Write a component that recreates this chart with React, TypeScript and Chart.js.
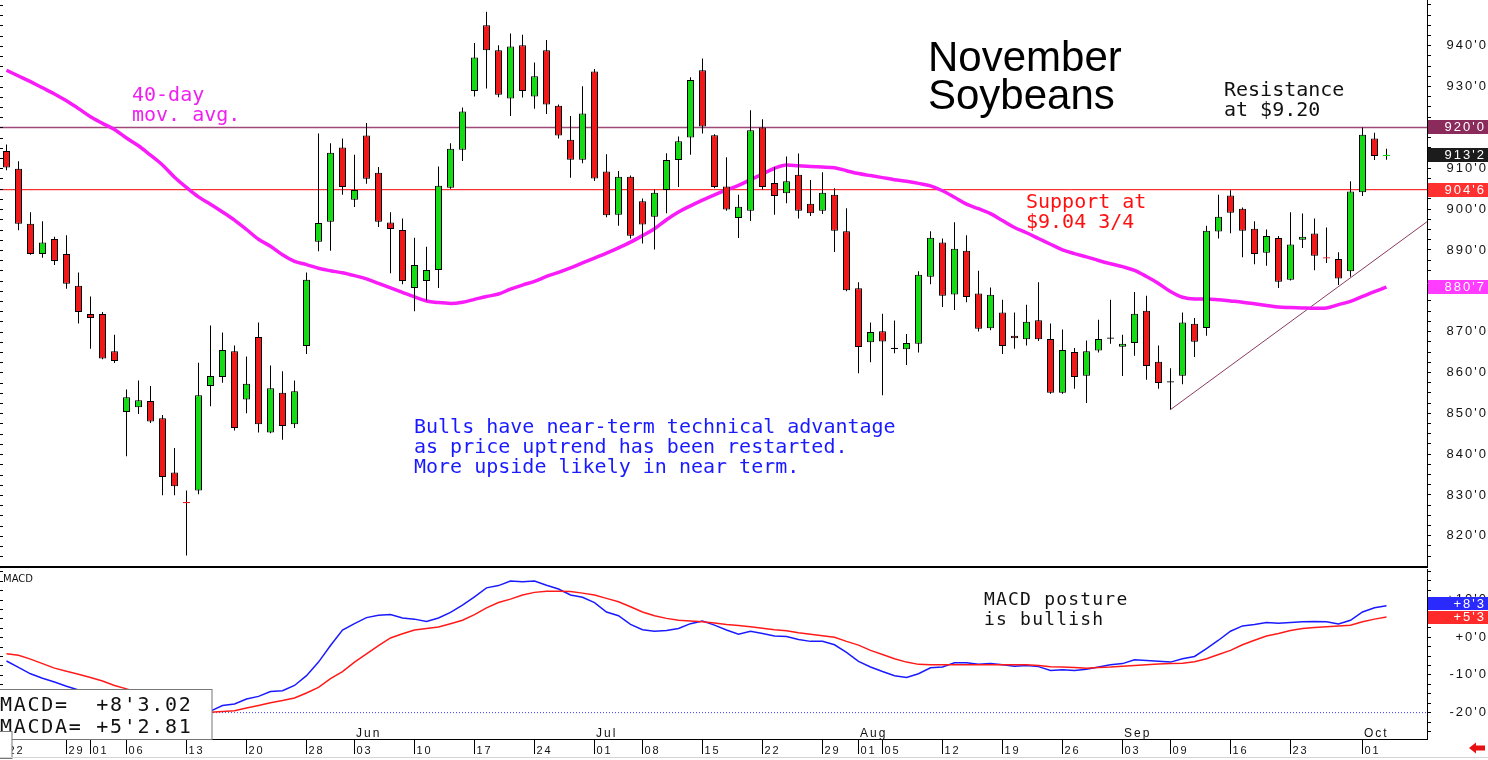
import React, { useEffect, useRef } from "react";
import { Chart, registerables } from "chart.js";

Chart.register(...registerables);

// ---------------- data ----------------
// trading-day index 0 = Apr 22 ... 115 = Oct 3
const tickIdx = [0, 5, 7, 10, 15, 20, 25, 29, 34, 39, 44, 49, 53, 58, 63, 68, 71, 73, 78, 83, 88, 93, 97, 102, 107, 113];
const tickLbl = ["22", "29", "01", "06", "13", "20", "28", "03", "10", "17", "24", "01", "08", "15", "22", "29", "01", "05", "12", "19", "26", "03", "09", "16", "23", "01"];
const monthIdx = [7, 29, 49, 71, 93, 113];
const monthLbl = ["May", "Jun", "Jul", "Aug", "Sep", "Oct"];
const priceLabels = [820, 830, 840, 850, 860, 870, 880, 890, 900, 910, 920, 930, 940];
const macdLabels = [-20, -10, 0, 10];

const open = [
  914.2, 909.9, 896.4, 889.0, 892.7, 889.0, 881.2, 874.3, 874.3, 865.2,
  850.3, 851.5, 853.0, 848.8, 835.5, 828.2, 831.1, 856.7, 858.9, 865.2,
  853.4, 868.7, 845.3, 855.0, 847.3, 866.5, 892.0, 896.9, 915.1, 902.3,
  918.0, 908.9, 896.7, 894.9, 880.7, 882.4, 885.1, 905.2, 914.5, 928.9,
  945.0, 938.9, 927.1, 940.1, 927.6, 938.9, 925.3, 917.0, 912.1, 933.7,
  909.2, 898.6, 907.9, 901.9, 898.1, 904.7, 912.0, 917.5, 934.0, 918.1,
  905.5, 897.8, 899.6, 920.0, 906.4, 903.9, 908.4, 901.3, 899.6, 903.5,
  894.6, 880.6, 867.4, 870.1, 865.9, 865.7, 867.0, 883.4, 891.8, 879.1,
  889.8, 879.3, 870.8, 874.7, 869.0, 868.1, 872.8, 868.2, 855.0, 865.0,
  859.2, 865.4, 868.4, 866.3, 867.2, 875.1, 862.6, 857.7, 859.2, 871.9,
  870.9, 894.5, 903.3, 900.1, 895.2, 889.3, 892.9, 882.7, 892.5, 894.0,
  888.1, 887.8, 884.8, 904.1, 917.3, 913.0,
];
const high = [
  915.8, 911.7, 899.2, 897.0, 893.2, 893.6, 884.5, 878.6, 874.8, 869.2,
  855.8, 858.0, 856.7, 849.6, 841.5, 831.1, 862.4, 871.5, 869.8, 866.6,
  863.9, 872.2, 861.7, 860.3, 858.0, 884.5, 918.5, 916.1, 917.3, 913.3,
  921.1, 910.3, 899.2, 897.7, 893.0, 890.8, 910.4, 916.1, 924.9, 940.7,
  948.3, 940.1, 943.0, 942.7, 935.9, 941.4, 925.6, 922.8, 930.1, 934.3,
  913.4, 909.3, 908.2, 902.6, 904.8, 913.7, 917.8, 932.3, 936.9, 918.3,
  912.7, 903.5, 924.2, 922.0, 910.3, 912.9, 913.6, 907.1, 909.0, 905.1,
  900.2, 882.1, 872.2, 874.4, 872.7, 869.4, 884.8, 894.6, 892.8, 896.8,
  893.6, 884.9, 880.8, 877.8, 874.7, 876.6, 882.1, 872.0, 870.5, 866.0,
  867.8, 872.9, 877.8, 869.2, 879.7, 878.8, 866.6, 861.0, 874.7, 873.3,
  895.9, 903.5, 904.6, 900.4, 897.0, 895.0, 893.4, 899.2, 898.9, 897.7,
  895.5, 889.4, 906.8, 920.0, 918.7, 914.8,
];
const low = [
  909.5, 894.8, 888.8, 888.1, 886.3, 880.5, 872.0, 865.8, 863.2, 862.3,
  839.5, 849.8, 847.6, 829.9, 829.9, 815.2, 830.2, 851.7, 857.5, 845.8,
  850.0, 845.3, 845.1, 843.5, 846.4, 864.5, 889.7, 889.8, 903.5, 900.5,
  906.2, 895.6, 884.3, 881.6, 875.0, 877.6, 880.7, 905.0, 911.8, 927.6,
  929.5, 927.4, 922.8, 927.3, 924.6, 923.3, 917.3, 907.7, 911.2, 906.9,
  898.0, 895.9, 892.8, 891.6, 890.1, 899.0, 905.4, 913.3, 918.5, 905.1,
  899.6, 892.9, 897.1, 904.8, 898.6, 901.4, 897.7, 898.3, 898.8, 889.5,
  879.9, 859.8, 862.5, 854.4, 864.7, 861.8, 864.9, 881.6, 876.0, 875.3,
  877.2, 870.0, 870.3, 864.5, 865.8, 866.6, 867.7, 854.8, 854.8, 856.0,
  852.5, 864.9, 867.0, 859.1, 864.1, 858.2, 856.0, 850.9, 857.1, 863.8,
  869.0, 892.8, 894.1, 888.2, 886.5, 886.1, 880.7, 882.5, 890.5, 885.0,
  886.8, 881.4, 883.4, 903.2, 912.0, 912.1,
];
const close = [
  910.2, 896.4, 889.0, 891.8, 887.3, 881.7, 874.8, 873.3, 863.4, 862.8,
  853.9, 853.2, 848.0, 834.4, 832.1, 828.0, 854.4, 859.1, 865.5, 846.4,
  857.2, 847.3, 856.1, 846.9, 855.4, 882.7, 896.6, 913.8, 905.4, 904.7,
  907.4, 896.9, 895.1, 882.4, 886.3, 885.1, 905.7, 914.8, 923.9, 937.1,
  938.9, 928.0, 939.8, 928.9, 932.5, 925.6, 918.0, 912.1, 923.4, 907.5,
  898.5, 907.9, 893.5, 896.2, 904.0, 912.0, 916.6, 931.6, 920.2, 905.4,
  899.9, 900.6, 919.3, 905.4, 903.2, 906.8, 899.6, 899.0, 904.0, 894.7,
  880.1, 866.2, 869.9, 867.6, 865.9, 867.2, 883.9, 893.0, 878.8, 890.3,
  878.5, 870.7, 879.0, 866.5, 868.4, 872.4, 868.1, 855.0, 865.5, 858.9,
  865.2, 868.2, 868.4, 867.0, 874.4, 861.6, 857.4, 857.7, 872.2, 867.5,
  894.7, 898.1, 899.1, 894.7, 889.0, 893.4, 882.2, 891.3, 893.2, 888.6,
  888.0, 883.0, 904.3, 918.2, 913.0, 913.25,
];
const ma40 = [
  934.0, 932.6, 931.2, 929.7, 928.2, 926.5, 924.6, 922.6, 921.0, 919.5,
  917.4, 915.5, 913.2, 910.8, 907.8, 905.3, 903.0, 901.2, 899.3, 897.3,
  895.0, 892.6, 890.9, 888.8, 887.2, 886.4, 885.5, 884.9, 884.4, 883.7,
  882.9, 881.8, 880.7, 879.6, 878.5, 877.5, 877.1, 876.9, 877.2, 877.9,
  878.6, 879.2, 880.4, 881.4, 882.3, 883.5, 884.5, 885.6, 886.8, 888.0,
  889.2, 890.5, 891.9, 893.5, 895.2, 897.4, 899.3, 900.8, 902.2, 903.5,
  904.7, 905.8, 907.2, 908.6, 910.0, 910.8, 910.6, 910.4, 910.3, 910.1,
  909.4, 908.7, 908.2, 907.7, 907.2, 906.8, 906.3, 905.7, 904.5, 902.9,
  901.2, 900.1, 898.9, 897.2, 895.5, 894.2, 892.8, 891.4, 890.0, 889.1,
  888.3, 887.4, 886.6, 885.9, 885.0, 883.5, 881.8, 879.8, 878.4, 878.0,
  878.0, 877.8, 877.5, 877.2, 876.8, 876.4, 876.0, 875.9, 875.8, 875.7,
  875.8, 876.6, 877.4, 878.6, 879.8, 880.875,
];
const macd = [
  -6.3, -8.0, -9.7, -10.9, -11.9, -13.0, -14.0, -15.0, -16.0, -17.0,
  -18.0, -18.9, -19.7, -20.3, -20.8, -21.0, -20.6, -19.6, -18.1, -17.7,
  -16.4, -15.7, -14.4, -14.2, -12.8, -10.2, -6.6, -2.2, 1.9, 3.6,
  5.2, 5.8, 6.0, 5.1, 4.8, 4.2, 5.1, 6.6, 8.5, 10.7,
  13.1, 13.7, 14.9, 14.7, 14.9, 13.8, 12.8, 11.2, 10.6, 9.2,
  6.7, 5.7, 3.4, 2.0, 1.6, 1.8, 2.3, 3.6, 4.3, 3.2,
  1.9, 0.8, 1.6, 1.0, 0.3, 0.2, -0.6, -1.1, -1.1, -2.0,
  -4.0, -6.4, -7.9, -9.1, -10.2, -10.7, -9.7, -8.1, -7.9, -6.8,
  -6.8, -7.2, -7.0, -7.3, -7.7, -7.5, -7.8, -8.8, -8.6, -8.8,
  -8.5, -7.9, -7.3, -7.0, -6.0, -6.2, -6.4, -6.6, -5.7, -5.1,
  -3.0, -0.8, 1.6, 3.0, 3.4, 3.9, 3.7, 3.9, 4.1, 4.2,
  4.1, 3.5, 4.5, 6.7, 7.8, 8.3775,
];
const macdAvg = [
  -4.4, -4.8, -5.8, -7.0, -8.2, -9.0, -9.8, -10.7, -11.6, -12.8,
  -13.7, -14.6, -15.5, -16.4, -17.3, -18.2, -19.0, -19.9, -19.7, -19.5,
  -18.8, -18.1, -17.4, -16.8, -16.1, -14.8, -13.3, -11.0, -9.1, -6.6,
  -4.4, -2.2, -0.2, 0.9, 1.9, 2.3, 2.7, 3.6, 4.5, 6.0,
  7.8, 9.2, 10.1, 11.2, 11.9, 12.2, 12.2, 12.1, 11.7, 11.2,
  10.3, 9.4, 8.1, 6.7, 5.7, 5.0, 4.5, 4.3, 4.1, 3.8,
  3.4, 3.1, 2.8, 2.4, 2.0, 1.7, 1.2, 0.8, 0.4, 0.0,
  -1.1, -2.1, -3.5, -4.6, -5.7, -6.6, -7.2, -7.3, -7.3, -7.3,
  -7.3, -7.3, -7.3, -7.3, -7.3, -7.3, -7.5, -7.8, -7.9, -8.0,
  -8.2, -8.0, -7.9, -7.7, -7.5, -7.3, -7.1, -7.0, -6.9, -6.5,
  -5.7, -4.6, -3.5, -2.0, -0.8, 0.3, 1.0, 1.8, 2.3, 2.6,
  2.8, 3.0, 3.2, 4.1, 4.8, 5.35125,
];

const RESISTANCE = 920;
const SUPPORT = 904.75;
const trendX = [97, 118.375];
const trendY = [850.9, 896.9];
const MACD_REF = -20;

const titleLines = ["November", "Soybeans"];
const maNote = ["40-day", "mov. avg."];
const resNote = ["Resistance", "at $9.20"];
const supNote = ["Support at", "$9.04 3/4"];
const bullNote = [
  "Bulls have near-term technical advantage",
  "as price uptrend has been restarted.",
  "More upside likely in near term.",
];
const macdNote = ["MACD posture", "is bullish"];
const readoutNames = ["MACD=", "MACDA="];

// ---------------- axes / style ----------------
const X_MIN = -0.5417;
const X_MAX = 118.375;
const P_MIN = 812.6;
const P_MAX = 951.2;
const M_MIN = -27.0;
const M_MAX = 18.1;
const AXIS_W = 61;

const GREEN = "#14DC14";
const RED = "#F01818";
const SANS = '"Liberation Sans", Arial, sans-serif';
const AXIS_FONT = "13px " + SANS;
const MONO = '20px "DejaVu Sans Mono", monospace';

function fmt8(v: number) {
  const a = Math.abs(v);
  let w = Math.floor(a + 1e-9);
  let e = Math.round((a - w) * 8);
  if (e === 8) { w += 1; e = 0; }
  return (v < 0 ? "-" : "") + w + "'" + e;
}
function signed8(v: number) {
  return (v >= 0 ? "+" : "-") + fmt8(Math.abs(v));
}
function readout(v: number) {
  const a = Math.abs(v);
  const w = Math.floor(a + 1e-9);
  return (v >= 0 ? "+" : "-") + w + "'" + ((a - w) * 8).toFixed(2);
}
function inList(v: number, list: number[]) {
  return list.some((l) => Math.abs(l - v) < 1e-6);
}
function drawLines(ctx: any, lines: string[], x: number, y0: number, lh: number, font: string, color: string, ls = 0) {
  ctx.font = font;
  ctx.fillStyle = color;
  ctx.textAlign = "left";
  ctx.textBaseline = "alphabetic";
  ctx.letterSpacing = ls + "px";
  lines.forEach((t, k) => ctx.fillText(t, x, y0 + k * lh));
  ctx.letterSpacing = "0px";
}

// wide letter spacing for the axis labels only
const axisSpacing = {
  id: "axisSpacing",
  beforeDraw(chart: any) {
    chart.ctx.letterSpacing = "2px";
  },
  beforeDatasetsDraw(chart: any) {
    chart.ctx.letterSpacing = "0px";
  },
};

const drawValueBox = (ctx: any, chart: any, c: number, h: number, col: string, text: string) => {
  const ca = chart.chartArea;
  ctx.fillStyle = col;
  ctx.fillRect(ca.right + 1, Math.round(c - h / 2), chart.width - ca.right - 1, h);
  ctx.fillStyle = "#fff";
  ctx.font = AXIS_FONT;
  ctx.textAlign = "right";
  ctx.textBaseline = "middle";
  ctx.letterSpacing = "2px";
  ctx.fillText(text, chart.width - 2, c + 0.5);
  ctx.letterSpacing = "0px";
};

const priceDecor = {
  id: "priceDecor",
  afterDraw(chart: any) {
    const { ctx } = chart;
    const y = chart.scales.y;
    ctx.save();
    ctx.fillStyle = "#000";
    for (const t of y.ticks) {
      const py = Math.round(y.getPixelForValue(t.value));
      ctx.fillRect(0, py, 3, 1);
    }
    drawLines(ctx, titleLines, 928, 71, 38, "42px " + SANS, "#000", 0);
    drawLines(ctx, maNote, 132, 101, 20, MONO, "#F01EF0");
    drawLines(ctx, resNote, 1224, 96, 20, MONO, "#111");
    drawLines(ctx, supNote, 1026, 208, 20, MONO, "#FF1010");
    drawLines(ctx, bullNote, 414, 433, 20, MONO, "#1A1AFF");

    const n = close.length;
    const boxes: [number, string][] = [
      [RESISTANCE, "#8A2B5C"],
      [close[n - 1], "#1C1C1C"],
      [SUPPORT, "#FF3030"],
      [ma40[n - 1], "#FF3CFF"],
    ];
    for (const [v, c] of boxes) drawValueBox(ctx, chart, y.getPixelForValue(v), 14, c, fmt8(v));
    ctx.restore();
  },
};

const macdDecor = {
  id: "macdDecor",
  afterDraw(chart: any) {
    const { ctx, chartArea: ca } = chart;
    const y = chart.scales.y;
    const x = chart.scales.x;
    ctx.save();
    // panel separator
    ctx.fillStyle = "#000";
    ctx.fillRect(0, 0, ca.right + 1, 2);
    for (const t of y.ticks) {
      const py = Math.round(y.getPixelForValue(t.value));
      ctx.fillRect(0, py, 3, 1);
    }
    // months
    ctx.fillStyle = "#111";
    ctx.font = "12px " + SANS;
    ctx.textAlign = "left";
    ctx.textBaseline = "alphabetic";
    ctx.letterSpacing = "2px";
    monthIdx.forEach((m, k) => ctx.fillText(monthLbl[k], x.getPixelForValue(m) + 1.5, ca.bottom - 2));
    ctx.letterSpacing = "0px";
    // labels
    drawLines(ctx, ["MACD"], 3, 15.5, 10, '10px "DejaVu Sans", sans-serif', "#111");
    drawLines(ctx, macdNote, 984, 39, 20, '18px "DejaVu Sans Mono", monospace', "#111", 1.2);
    // readout box
    ctx.fillStyle = "#fff";
    ctx.fillRect(0, ca.bottom - 49, 212, 49);
    ctx.strokeStyle = "#777";
    ctx.lineWidth = 1;
    ctx.strokeRect(-0.5, ca.bottom - 49.5, 212.5, 50);
    const n = macd.length;
    const vals = [readout(macd[n - 1]), readout(macdAvg[n - 1])];
    drawLines(
      ctx,
      readoutNames.map((nm, k) => nm.padEnd(7, " ") + vals[k]),
      0,
      ca.bottom - 28.5,
      22,
      '20px "DejaVu Sans Mono", monospace',
      "#111",
      1.7
    );
    // small corner box
    ctx.fillStyle = "#fff";
    ctx.fillRect(0, ca.bottom - 8, 12, 28);
    ctx.strokeRect(-0.5, ca.bottom - 7.5, 12.5, 27);
    // right value boxes
    const redC = y.getPixelForValue(macdAvg[n - 1]);
    let blueC = y.getPixelForValue(macd[n - 1]);
    if (redC - blueC < 13.5) blueC = redC - 13.5;
    drawValueBox(ctx, chart, redC, 13, "#FF2A2A", signed8(macdAvg[n - 1]));
    drawValueBox(ctx, chart, blueC, 13, "#2A2AFF", signed8(macd[n - 1]));
    // bottom strip
    ctx.fillStyle = "#d4d4d4";
    ctx.fillRect(0, chart.height - 3, chart.width, 1);
    ctx.fillStyle = "#E81010";
    ctx.beginPath();
    const ay = chart.height - 12;
    ctx.moveTo(1469, ay);
    ctx.lineTo(1476, ay - 5.5);
    ctx.lineTo(1476, ay - 2.5);
    ctx.lineTo(1485, ay - 2.5);
    ctx.lineTo(1485, ay + 2.5);
    ctx.lineTo(1476, ay + 2.5);
    ctx.lineTo(1476, ay + 5.5);
    ctx.closePath();
    ctx.fill();
    ctx.restore();
  },
};

export default function App() {
  const priceRef = useRef<HTMLCanvasElement>(null);
  const macdRef = useRef<HTMLCanvasElement>(null);

  useEffect(() => {
    document.body.style.margin = "0";
    document.body.style.overflow = "hidden";
    const idx = close.map((_, i) => i);
    const isDoji = (i: number) => Math.abs(close[i] - open[i]) < 0.35;
    const bodyColor = idx.map((i) => (close[i] > open[i] ? GREEN : close[i] < open[i] ? RED : "#000"));
    const bodyBorder = idx.map((i) => (isDoji(i) ? bodyColor[i] : "#000"));
    const bodyData = idx.map((i) => {
      if (isDoji(i)) {
        const m = (open[i] + close[i]) / 2;
        return { x: i, y: [m - 0.15, m + 0.15] };
      }
      return { x: i, y: [open[i], close[i]] };
    });
    const wickData = idx.map((i) => ({ x: i, y: [low[i], high[i]] }));
    const maData = idx.map((i) => ({ x: i, y: ma40[i] }));
    const trendData = trendX.map((v, k) => ({ x: v, y: trendY[k] }));
    const macdData = idx.map((i) => ({ x: i, y: macd[i] }));
    const avgData = idx.map((i) => ({ x: i, y: macdAvg[i] }));

    const yAxisCommon = (min: number, max: number, labels: number[], fmt: (v: number) => string) => ({
      type: "linear",
      position: "right",
      min,
      max,
      afterFit: (s: any) => {
        s.width = AXIS_W;
        s.paddingTop = 0;
        s.paddingBottom = 0;
      },
      grid: { drawOnChartArea: false, drawTicks: true, tickLength: 4, color: "#000", lineWidth: 1 },
      border: { display: true, color: "#000", width: 1 },
      ticks: {
        stepSize: 2.5,
        autoSkip: false,
        maxTicksLimit: 1000,
        includeBounds: false,
        crossAlign: "far",
        padding: 23.5,
        color: "#111",
        font: { family: SANS, size: 13 },
        callback: (v: any) => (inList(Number(v), labels) ? fmt(Number(v)) : ""),
      },
    });

    const price = new Chart(priceRef.current as HTMLCanvasElement, {
      type: "bar",
      data: {
        datasets: [
          { type: "bar", label: "body", data: bodyData, backgroundColor: bodyColor, borderColor: bodyBorder, borderWidth: 1, borderSkipped: false, barThickness: 7, grouped: false, inflateAmount: 0, order: 0 } as any,
          { type: "bar", label: "wick", data: wickData, backgroundColor: "#000", borderWidth: 0, barThickness: 1, grouped: false, inflateAmount: 0, order: 1 } as any,
          { type: "line", label: "ma40", data: maData, borderColor: "#F81CF8", borderWidth: 3.5, pointRadius: 0, cubicInterpolationMode: "monotone", order: 2 } as any,
          { type: "line", label: "trend", data: trendData, borderColor: "#8B3A62", borderWidth: 1, pointRadius: 0, order: 3 } as any,
          { type: "line", label: "resistance", data: [{ x: X_MIN, y: RESISTANCE }, { x: X_MAX, y: RESISTANCE }], borderColor: "#9E4A78", borderWidth: 1.5, pointRadius: 0, order: 4 } as any,
          { type: "line", label: "support", data: [{ x: X_MIN, y: SUPPORT }, { x: X_MAX, y: SUPPORT }], borderColor: "#FF0000", borderWidth: 1, pointRadius: 0, order: 5 } as any,
        ],
      },
      options: {
        responsive: false,
        animation: false,
        devicePixelRatio: 1,
        events: [],
        layout: { padding: 0 },
        plugins: { legend: { display: false }, tooltip: { enabled: false } },
        scales: {
          x: { type: "linear", display: false, min: X_MIN, max: X_MAX, offset: false } as any,
          y: yAxisCommon(P_MIN, P_MAX, priceLabels, fmt8) as any,
        },
      },
      plugins: [axisSpacing, priceDecor],
    });

    const macdChart = new Chart(macdRef.current as HTMLCanvasElement, {
      type: "line",
      data: {
        datasets: [
          { label: "MACDA", data: avgData, borderColor: "#FF1A1A", borderWidth: 1.5, pointRadius: 0, order: 0 } as any,
          { label: "MACD", data: macdData, borderColor: "#1A1AFF", borderWidth: 1.5, pointRadius: 0, order: 1 } as any,
          { label: "ref", data: [{ x: X_MIN, y: MACD_REF }, { x: X_MAX, y: MACD_REF }], borderColor: "#3A3AFF", borderWidth: 1, borderDash: [1, 2], pointRadius: 0, order: 2 } as any,
        ],
      },
      options: {
        responsive: false,
        animation: false,
        devicePixelRatio: 1,
        events: [],
        layout: { padding: { top: 3, left: 0, right: 0, bottom: 0 } },
        plugins: { legend: { display: false }, tooltip: { enabled: false } },
        scales: {
          x: {
            type: "linear",
            position: "bottom",
            min: X_MIN,
            max: X_MAX,
            offset: false,
            afterBuildTicks: (s: any) => {
              s.ticks = tickIdx.map((v) => ({ value: v }));
            },
            afterFit: (s: any) => {
              s.height = 21;
              s.paddingLeft = 0;
              s.paddingRight = 0;
            },
            grid: { display: true, drawOnChartArea: false, drawTicks: true, tickLength: 15, color: "#000", lineWidth: 1, offset: false },
            border: { display: true, color: "#000", width: 1 },
            ticks: {
              autoSkip: false,
              maxRotation: 0,
              minRotation: 0,
              align: "start",
              labelOffset: 2,
              padding: -10,
              color: "#111",
              font: { family: SANS, size: 11 },
              callback: (_v: any, i: number) => tickLbl[i] ?? "",
            },
          } as any,
          y: yAxisCommon(M_MIN, M_MAX, macdLabels, signed8) as any,
        },
      },
      plugins: [axisSpacing, macdDecor],
    });

    return () => {
      price.destroy();
      macdChart.destroy();
    };
  }, []);

  return (
    <div style={{ position: "relative", width: 1488, height: 760, background: "#fff", overflow: "hidden" }}>
      <canvas ref={priceRef} width={1488} height={566} style={{ position: "absolute", left: 0, top: 0, width: 1488, height: 566 }} />
      <canvas ref={macdRef} width={1488} height={194} style={{ position: "absolute", left: 0, top: 566, width: 1488, height: 194 }} />
    </div>
  );
}
